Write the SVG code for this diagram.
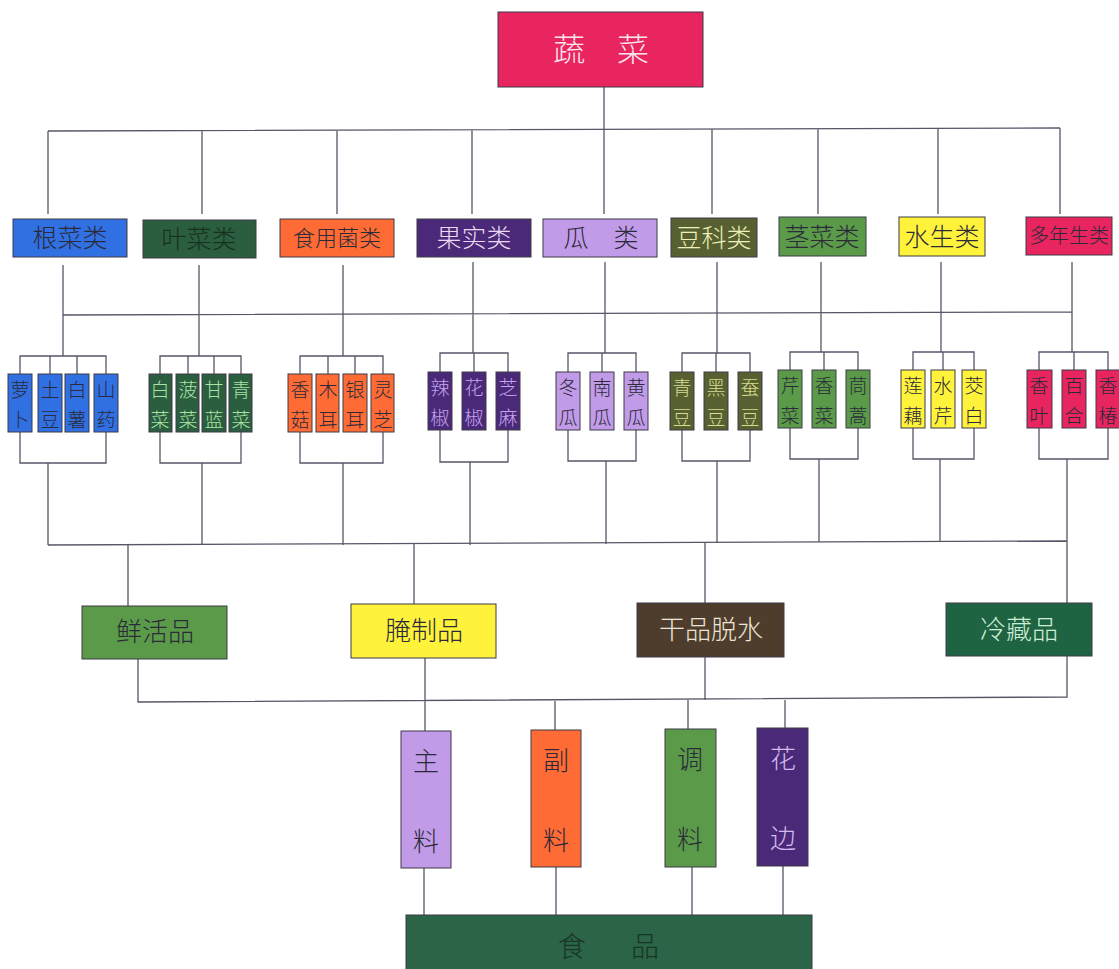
<svg xmlns="http://www.w3.org/2000/svg" width="1119" height="969" viewBox="0 0 1119 969">
<style>
.ln{stroke:#5a5468;stroke-width:1.3;fill:none}
.bx{stroke:#3e3a48;stroke-width:1}
text{font-family:"Noto Sans CJK SC","Noto Sans",sans-serif;text-anchor:middle;font-weight:300}
.c{font-size:25px}
.c4{font-size:20px}
.c4w{font-size:22px}
.i{font-size:19px}
.b{font-size:26px}
.dk{fill:#2a2a3a}
.crimson{fill:#e8255e}
.blue{fill:#3170e2}
.dgreen{fill:#2b5e3e}
.orange{fill:#ff6b35}
.purple{fill:#4a2a78}
.lpurple{fill:#c29be8}
.olive{fill:#566030}
.green{fill:#5a9a48}
.yellow{fill:#fff23a}
.brown{fill:#4e3d2c}
.fgreen{fill:#1f6442}
.food{fill:#2b6446}
</style>
<rect width="1119" height="969" fill="#ffffff"/>
<g id="connectors">
<path class="ln" d="M604 87V130M48 131L1060 128M48 131V214M202 131V214M337 130V214M472 130V214M604 130V214M712 129V214M818 129V214M938 128V214M1060 128V214"/>
<path class="ln" d="M63 265V356M199 265V356M343 265V356M473 262V353M605 262V353M717 262V353M821 262V352M941 262V352M1072 262V352M63 315L1072 312"/>
<path class="ln" d="M20 374V356H106V374M50 356V374M77 356V374"/>
<path class="ln" d="M160 374V356H241V374M188 356V374M214 356V374"/>
<path class="ln" d="M300 374V356H383V374M328 356V374M355 356V374"/>
<path class="ln" d="M440 372V353H508V372M474 353V372"/>
<path class="ln" d="M568 372V353H636V372M602 353V372"/>
<path class="ln" d="M682 372V353H750V372M716 353V372"/>
<path class="ln" d="M790 370V352H858V370M824 352V370"/>
<path class="ln" d="M913 370V352H974V370M943 352V370"/>
<path class="ln" d="M1039 370V352H1108V370M1074 352V370"/>
<path class="ln" d="M20 432V463H106V432M48 463V545"/>
<path class="ln" d="M160 432V463H241V432M202 463V545"/>
<path class="ln" d="M300 432V463H383V432M343 463V545"/>
<path class="ln" d="M440 430V462H508V430M470 462V545"/>
<path class="ln" d="M568 430V461H636V430M606 461V544"/>
<path class="ln" d="M682 430V461H750V430M717 461V543"/>
<path class="ln" d="M790 428V459H858V428M819 459V542"/>
<path class="ln" d="M913 428V459H974V428M940 459V542"/>
<path class="ln" d="M1039 428V459H1108V428M1067 459V603"/>
<path class="ln" d="M48 545L1067 541"/>
<path class="ln" d="M128 545V606M414 544V604M705 543V603"/>
<path class="ln" d="M138 659V702L1067 697V655M425 658V731M705 656V700M555 701V730M688 700V729M785 700V728"/>
<path class="ln" d="M424 868V915M556 867V915M692 867V915M783 866V915"/>
</g>
<g id="root"><rect class="bx crimson" x="498" y="12" width="205" height="75"/><text x="601" y="61" font-size="32" fill="#fbe4ee">蔬　菜</text></g>
<g id="cat-gencai"><rect class="bx blue" x="13" y="219" width="114" height="38"/><text class="c dk" x="70" y="247">根菜类</text></g>
<g id="cat-yecai"><rect class="bx dgreen" x="143" y="220" width="113" height="38"/><text class="c" x="199" y="248" fill="#17301f">叶菜类</text></g>
<g id="cat-jun"><rect class="bx orange" x="280" y="219" width="114" height="38"/><text class="c4w dk" x="337" y="246">食用菌类</text></g>
<g id="cat-guoshi"><rect class="bx purple" x="417" y="219" width="114" height="38"/><text class="c" x="474" y="247" fill="#ecd8f2">果实类</text></g>
<g id="cat-gua"><rect class="bx lpurple" x="543" y="219" width="114" height="38"/><text class="c dk" x="601" y="247">瓜　类</text></g>
<g id="cat-douke"><rect class="bx olive" x="671" y="218" width="86" height="39"/><text class="c" x="714" y="247" fill="#eef0b8">豆科类</text></g>
<g id="cat-jingcai"><rect class="bx green" x="779" y="217" width="87" height="39"/><text class="c dk" x="822" y="246">茎菜类</text></g>
<g id="cat-shuisheng"><rect class="bx yellow" x="899" y="217" width="86" height="39"/><text class="c dk" x="942" y="246">水生类</text></g>
<g id="cat-duonian"><rect class="bx crimson" x="1026" y="217" width="86" height="38"/><text class="c4 dk" x="1069" y="243">多年生类</text></g>
<g id="items-gencai">
<rect class="bx blue" x="8" y="374" width="24" height="58"/><text class="i dk" x="20" y="397">萝</text><text class="i dk" x="20" y="427">卜</text>
<rect class="bx blue" x="38" y="374" width="24" height="58"/><text class="i dk" x="50" y="397">土</text><text class="i dk" x="50" y="427">豆</text>
<rect class="bx blue" x="65" y="374" width="24" height="58"/><text class="i dk" x="77" y="397">白</text><text class="i dk" x="77" y="427">薯</text>
<rect class="bx blue" x="94" y="374" width="24" height="58"/><text class="i dk" x="106" y="397">山</text><text class="i dk" x="106" y="427">药</text>
</g>
<g id="items-yecai" fill="#a9e3a6">
<rect class="bx dgreen" x="149" y="374" width="23" height="58"/><text class="i" x="160" y="397">白</text><text class="i" x="160" y="427">菜</text>
<rect class="bx dgreen" x="176" y="374" width="23" height="58"/><text class="i" x="188" y="397">菠</text><text class="i" x="188" y="427">菜</text>
<rect class="bx dgreen" x="202" y="374" width="24" height="58"/><text class="i" x="214" y="397">甘</text><text class="i" x="214" y="427">蓝</text>
<rect class="bx dgreen" x="229" y="374" width="23" height="58"/><text class="i" x="241" y="397">青</text><text class="i" x="241" y="427">菜</text>
</g>
<g id="items-jun">
<rect class="bx orange" x="288" y="374" width="24" height="58"/><text class="i dk" x="300" y="397">香</text><text class="i dk" x="300" y="427">菇</text>
<rect class="bx orange" x="316" y="374" width="23" height="58"/><text class="i dk" x="328" y="397">木</text><text class="i dk" x="328" y="427">耳</text>
<rect class="bx orange" x="343" y="374" width="24" height="58"/><text class="i dk" x="355" y="397">银</text><text class="i dk" x="355" y="427">耳</text>
<rect class="bx orange" x="371" y="374" width="23" height="58"/><text class="i dk" x="383" y="397">灵</text><text class="i dk" x="383" y="427">芝</text>
</g>
<g id="items-guoshi" fill="#c6a2ee">
<rect class="bx purple" x="428" y="372" width="24" height="58"/><text class="i" x="440" y="395">辣</text><text class="i" x="440" y="425">椒</text>
<rect class="bx purple" x="462" y="372" width="24" height="58"/><text class="i" x="474" y="395">花</text><text class="i" x="474" y="425">椒</text>
<rect class="bx purple" x="496" y="372" width="24" height="58"/><text class="i" x="508" y="395">芝</text><text class="i" x="508" y="425">麻</text>
</g>
<g id="items-gua">
<rect class="bx lpurple" x="556" y="372" width="24" height="58"/><text class="i dk" x="568" y="395">冬</text><text class="i dk" x="568" y="425">瓜</text>
<rect class="bx lpurple" x="590" y="372" width="24" height="58"/><text class="i dk" x="602" y="395">南</text><text class="i dk" x="602" y="425">瓜</text>
<rect class="bx lpurple" x="624" y="372" width="24" height="58"/><text class="i dk" x="636" y="395">黄</text><text class="i dk" x="636" y="425">瓜</text>
</g>
<g id="items-douke" fill="#d9dc8e">
<rect class="bx olive" x="670" y="372" width="24" height="58"/><text class="i" x="682" y="395">青</text><text class="i" x="682" y="425">豆</text>
<rect class="bx olive" x="704" y="372" width="24" height="58"/><text class="i" x="716" y="395">黑</text><text class="i" x="716" y="425">豆</text>
<rect class="bx olive" x="738" y="372" width="24" height="58"/><text class="i" x="750" y="395">蚕</text><text class="i" x="750" y="425">豆</text>
</g>
<g id="items-jingcai">
<rect class="bx green" x="778" y="370" width="24" height="58"/><text class="i dk" x="790" y="393">芹</text><text class="i dk" x="790" y="423">菜</text>
<rect class="bx green" x="812" y="370" width="24" height="58"/><text class="i dk" x="824" y="393">香</text><text class="i dk" x="824" y="423">菜</text>
<rect class="bx green" x="846" y="370" width="24" height="58"/><text class="i dk" x="858" y="393">茼</text><text class="i dk" x="858" y="423">蒿</text>
</g>
<g id="items-shuisheng">
<rect class="bx yellow" x="901" y="370" width="24" height="58"/><text class="i dk" x="913" y="393">莲</text><text class="i dk" x="913" y="423">藕</text>
<rect class="bx yellow" x="931" y="370" width="24" height="58"/><text class="i dk" x="943" y="393">水</text><text class="i dk" x="943" y="423">芹</text>
<rect class="bx yellow" x="962" y="370" width="24" height="58"/><text class="i dk" x="974" y="393">茭</text><text class="i dk" x="974" y="423">白</text>
</g>
<g id="items-duonian">
<rect class="bx crimson" x="1027" y="370" width="25" height="58"/><text class="i dk" x="1039" y="393">香</text><text class="i dk" x="1039" y="423">叶</text>
<rect class="bx crimson" x="1062" y="370" width="24" height="58"/><text class="i dk" x="1074" y="393">百</text><text class="i dk" x="1074" y="423">合</text>
<rect class="bx crimson" x="1096" y="370" width="24" height="58"/><text class="i dk" x="1108" y="393">香</text><text class="i dk" x="1108" y="423">椿</text>
</g>
<g id="xianhuo"><rect class="bx green" x="82" y="606" width="145" height="53"/><text class="b dk" x="155" y="641">鲜活品</text></g>
<g id="yanzhi"><rect class="bx yellow" x="351" y="604" width="145" height="54"/><text class="b dk" x="424" y="640">腌制品</text></g>
<g id="ganpin"><rect class="bx brown" x="637" y="603" width="147" height="54"/><text class="b" x="711" y="639" fill="#ece4d4">干品脱水</text></g>
<g id="lengcang"><rect class="bx fgreen" x="946" y="603" width="146" height="53"/><text class="b" x="1019" y="639" fill="#cfeed8">冷藏品</text></g>
<g id="zhuliao"><rect class="bx lpurple" x="401" y="731" width="50" height="137"/><text class="b dk" x="426" y="771">主</text><text class="b dk" x="426" y="851">料</text></g>
<g id="fuliao"><rect class="bx orange" x="531" y="730" width="50" height="137"/><text class="b dk" x="556" y="770">副</text><text class="b dk" x="556" y="850">料</text></g>
<g id="tiaoliao"><rect class="bx green" x="665" y="729" width="51" height="138"/><text class="b dk" x="690" y="769">调</text><text class="b dk" x="690" y="849">料</text></g>
<g id="huabian"><rect class="bx purple" x="757" y="728" width="51" height="138"/><text class="b" x="783" y="768" fill="#d4b8ee">花</text><text class="b" x="783" y="848" fill="#d4b8ee">边</text></g>
<g id="shipin"><rect class="bx food" x="406" y="915" width="406" height="60"/><text x="572" y="957" font-size="28" fill="#1a3626">食</text><text x="645" y="957" font-size="28" fill="#1a3626">品</text></g>
</svg>
